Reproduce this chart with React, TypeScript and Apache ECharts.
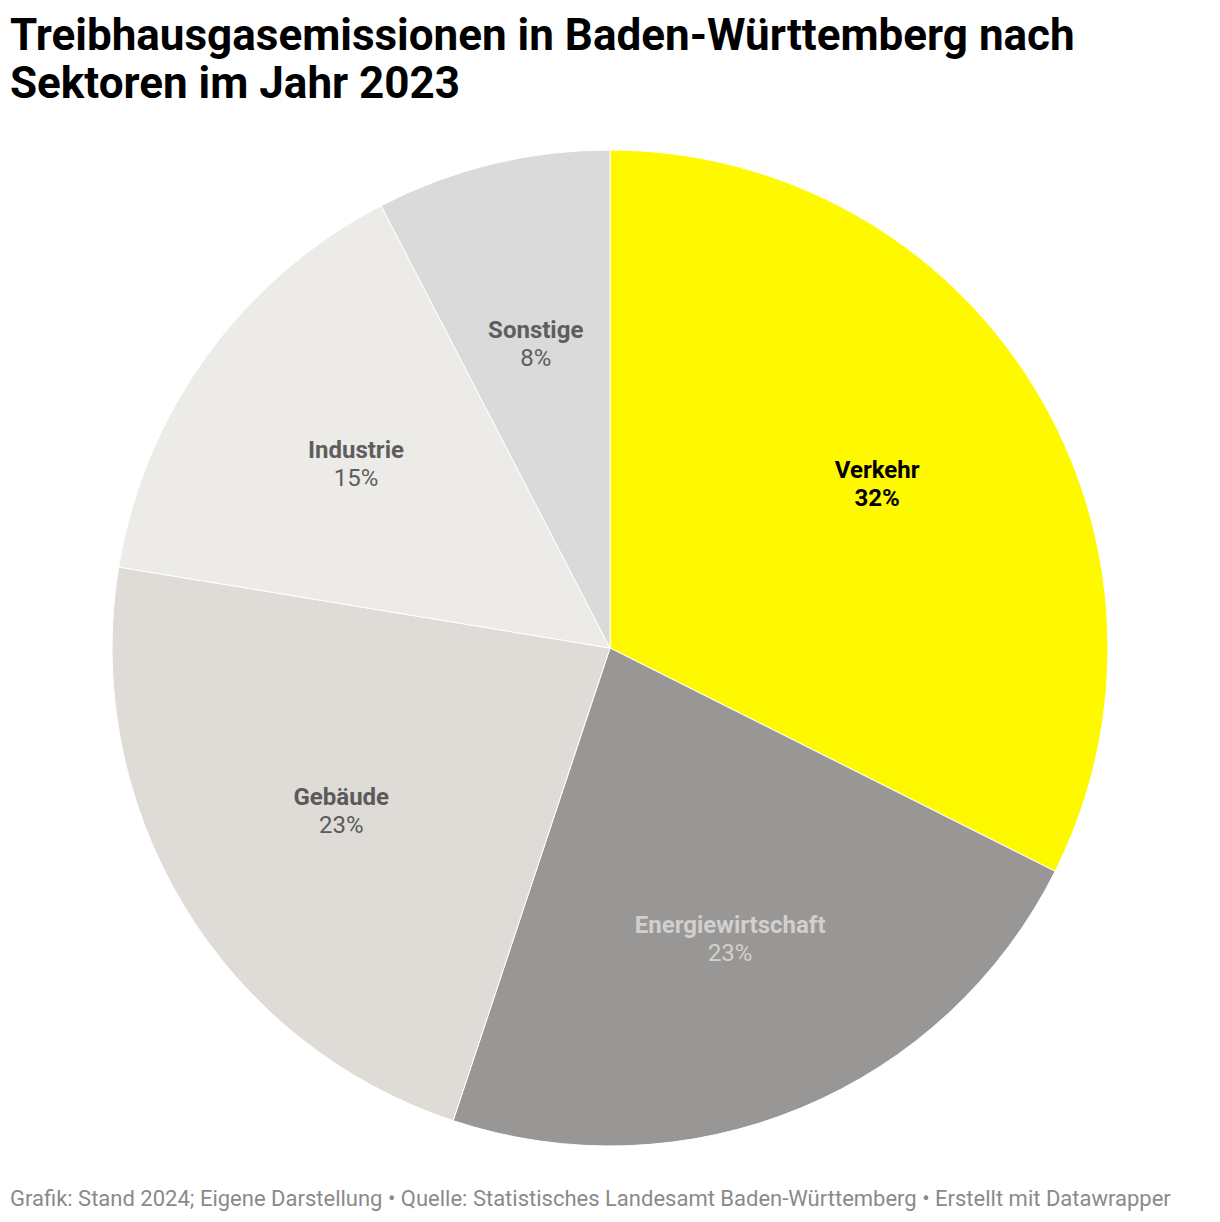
import React, { useEffect, useRef } from "react";
import * as echarts from "echarts";

const categories = ["Verkehr", "Energiewirtschaft", "Gebäude", "Industrie", "Sonstige"];
const values = [32.4, 22.7, 22.5, 14.8, 7.6];
const colors = ["#fff900", "#999795", "#dfdbd7", "#edebe8", "#dadada"];
const labelColors = ["#000000", "#d2d0ce", "#5a5a5a", "#5e5e5e", "#5e5e5e"];
const pctBold = [true, false, false, false, false];

const titleText = "Treibhausgasemissionen in Baden-Württemberg nach\nSektoren im Jahr 2023";
const footerText =
  "Grafik: Stand 2024; Eigene Darstellung • Quelle: Statistisches Landesamt Baden-Württemberg • Erstellt mit Datawrapper";

export default function App() {
  const ref = useRef<HTMLDivElement>(null);
  useEffect(() => {
    document.body.style.margin = "0";
    const chart = echarts.init(ref.current!, null, { renderer: "svg" });
    const font = "Roboto, 'Noto Sans', sans-serif";
    const baseData = categories.map((c, i) => ({
      name: c,
      value: values[i],
      itemStyle: { color: colors[i] },
    }));
    const labelData = categories.map((c, i) => ({
      name: c,
      value: values[i],
      itemStyle: { color: "rgba(0,0,0,0)" },
      label: {
        rich: {
          n: { fontSize: 24, fontWeight: "bold", color: labelColors[i], fontFamily: font, lineHeight: 28 },
          p: {
            fontSize: 24,
            fontWeight: pctBold[i] ? "bold" : "normal",
            color: labelColors[i],
            fontFamily: font,
            lineHeight: 28,
          },
        },
      },
    }));
    chart.setOption({
      animation: false,
      title: {
        text: titleText,
        left: 10,
        top: 11,
        padding: 0,
        textStyle: { fontSize: 44, fontWeight: "bold", color: "#000", fontFamily: font, lineHeight: 48 },
      },
      graphic: [
        {
          type: "text",
          left: 10,
          top: 1187,
          style: { text: footerText, fontSize: 22, fill: "#8a8a8a", fontFamily: font },
        },
      ],
      series: [
        {
          type: "pie",
          center: [610, 648],
          radius: [0, 498],
          startAngle: 90,
          clockwise: true,
          silent: true,
          label: { show: false },
          labelLine: { show: false },
          itemStyle: { borderColor: "#ffffff", borderWidth: 1 },
          data: baseData,
        },
        {
          type: "pie",
          center: [610, 649],
          radius: [0, 622],
          startAngle: 90,
          clockwise: true,
          silent: true,
          z: 3,
          itemStyle: { borderWidth: 0 },
          label: {
            show: true,
            position: "inside",
            formatter: (p: any) => `{n|${p.name}}\n{p|${Math.round(p.value)}%}`,
          },
          labelLine: { show: false },
          data: labelData,
        },
      ],
    });
    return () => chart.dispose();
  }, []);
  return <div ref={ref} style={{ width: 1220, height: 1222 }} />;
}
